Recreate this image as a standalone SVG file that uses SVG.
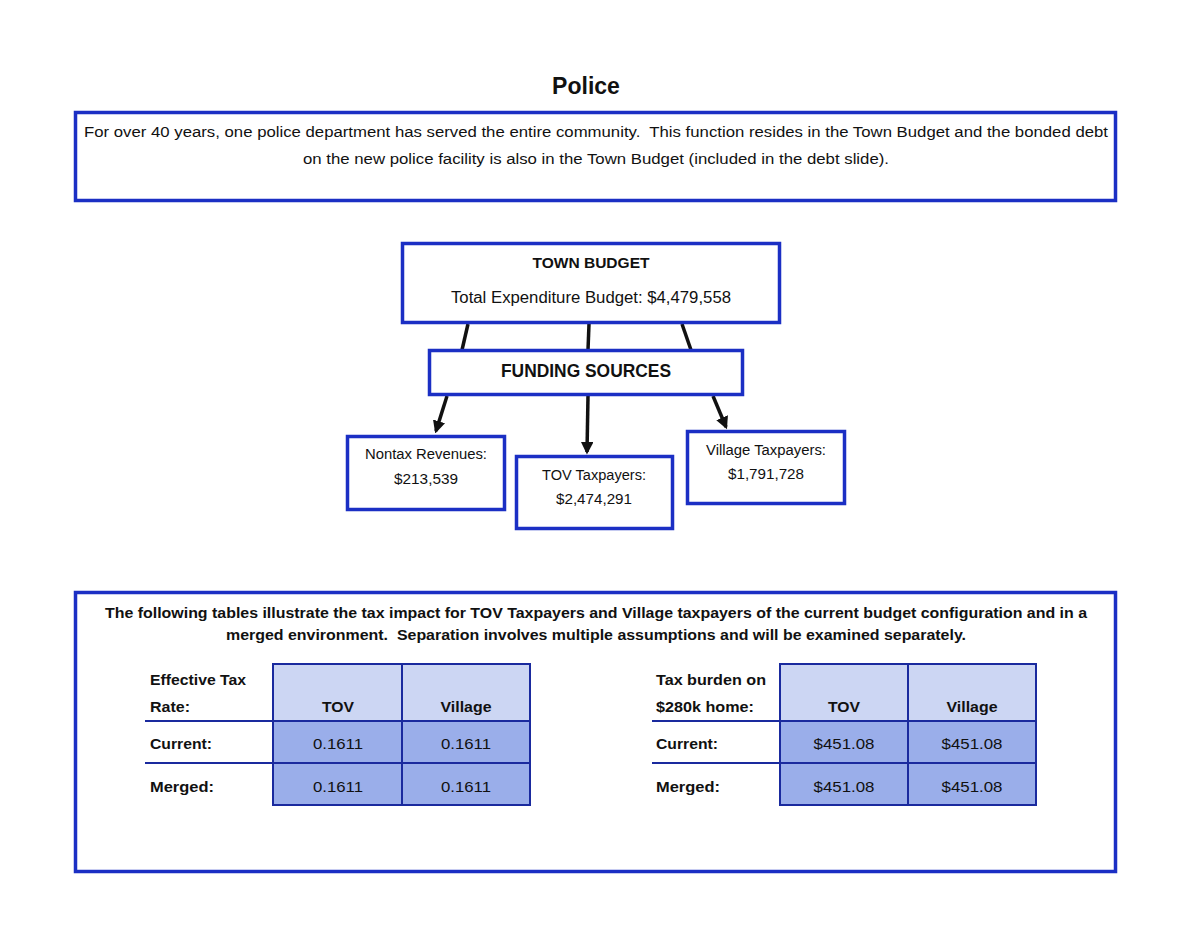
<svg xmlns="http://www.w3.org/2000/svg" width="1200" height="927" viewBox="0 0 1200 927">
<defs>
<style>
text{font-family:"Liberation Sans",Arial,sans-serif;fill:#111;}
.box{fill:#fff;stroke:#1b2fc4;stroke-width:3.5;}
.b{font-weight:bold;}
.c{text-anchor:middle;}
.hd{fill:#ccd6f3;stroke:#1a2a9e;stroke-width:2;}
.dt{fill:#9aaeea;stroke:#1a2a9e;stroke-width:2;}
.rl{stroke:#1a2a9e;stroke-width:2;}
.ln{stroke:#111;stroke-width:3.5;fill:none;}
</style>
<marker id="ah" viewBox="0 0 10 10" refX="8" refY="5" markerWidth="3.6" markerHeight="3.6" orient="auto" markerUnits="strokeWidth">
<path d="M0,0 L10,5 L0,10 z" fill="#111"/>
</marker>
</defs>
<rect width="1200" height="927" fill="#fff"/>
<text x="586" y="94" class="b c" font-size="23">Police</text>
<g id="intro">
<rect class="box" x="75.5" y="112.5" width="1040" height="88"/>
<text x="596" y="137" class="c" font-size="15.5" textLength="1024" lengthAdjust="spacingAndGlyphs" xml:space="preserve">For over 40 years, one police department has served the entire community.  This function resides in the Town Budget and the bonded debt</text>
<text x="596" y="164" class="c" font-size="15.5" textLength="586" lengthAdjust="spacingAndGlyphs">on the new police facility is also in the Town Budget (included in the debt slide).</text>
</g>
<g id="connectors">
<line class="ln" x1="468" y1="324" x2="462" y2="350"/>
<line class="ln" x1="589" y1="324" x2="588" y2="350"/>
<line class="ln" x1="682" y1="324" x2="691" y2="350"/>
<line class="ln" x1="447" y1="396" x2="436" y2="431" marker-end="url(#ah)"/>
<line class="ln" x1="588" y1="396" x2="587" y2="452" marker-end="url(#ah)"/>
<line class="ln" x1="713" y1="396" x2="726" y2="427" marker-end="url(#ah)"/>
</g>
<g id="town-budget">
<rect class="box" x="402.5" y="243.5" width="377" height="79"/>
<text x="591" y="268" class="b c" font-size="15" textLength="117" lengthAdjust="spacingAndGlyphs">TOWN BUDGET</text>
<text x="591" y="303" class="c" font-size="16" textLength="280" lengthAdjust="spacingAndGlyphs">Total Expenditure Budget: $4,479,558</text>
</g>
<g id="funding-sources">
<rect class="box" x="429.5" y="350.5" width="313" height="44"/>
<text x="586" y="377" class="b c" font-size="18" textLength="170" lengthAdjust="spacingAndGlyphs">FUNDING SOURCES</text>
</g>
<g id="nontax">
<rect class="box" x="347.5" y="436.5" width="157" height="73"/>
<text x="426" y="459" class="c" font-size="14" textLength="122" lengthAdjust="spacingAndGlyphs">Nontax Revenues:</text>
<text x="426" y="484" class="c" font-size="14" textLength="64" lengthAdjust="spacingAndGlyphs">$213,539</text>
</g>
<g id="tov-taxpayers">
<rect class="box" x="516.5" y="456.5" width="156" height="72"/>
<text x="594" y="480" class="c" font-size="14" textLength="104" lengthAdjust="spacingAndGlyphs">TOV Taxpayers:</text>
<text x="594" y="504" class="c" font-size="14" textLength="76" lengthAdjust="spacingAndGlyphs">$2,474,291</text>
</g>
<g id="village-taxpayers">
<rect class="box" x="687.5" y="431.5" width="157" height="72"/>
<text x="766" y="455" class="c" font-size="14" textLength="120" lengthAdjust="spacingAndGlyphs">Village Taxpayers:</text>
<text x="766" y="479" class="c" font-size="14" textLength="76" lengthAdjust="spacingAndGlyphs">$1,791,728</text>
</g>
<g id="tax-impact">
<rect class="box" x="75.5" y="592.5" width="1040" height="279"/>
<text x="596" y="618" class="b c" font-size="15" textLength="982" lengthAdjust="spacingAndGlyphs">The following tables illustrate the tax impact for TOV Taxpayers and Village taxpayers of the current budget configuration and in a</text>
<text x="596" y="640" class="b c" font-size="15" textLength="740" lengthAdjust="spacingAndGlyphs" xml:space="preserve">merged environment.  Separation involves multiple assumptions and will be examined separately.</text>
</g>
<g id="table-rate">
<rect class="hd" x="273" y="664" width="129" height="57"/>
<rect class="hd" x="402" y="664" width="128" height="57"/>
<rect class="dt" x="273" y="721" width="129" height="42"/>
<rect class="dt" x="402" y="721" width="128" height="42"/>
<rect class="dt" x="273" y="763" width="129" height="42"/>
<rect class="dt" x="402" y="763" width="128" height="42"/>
<line class="rl" x1="145" y1="721" x2="273" y2="721"/>
<line class="rl" x1="145" y1="763" x2="273" y2="763"/>
<text x="150" y="685" class="b" font-size="15" textLength="96" lengthAdjust="spacingAndGlyphs">Effective Tax</text>
<text x="150" y="712" class="b" font-size="15" textLength="40" lengthAdjust="spacingAndGlyphs">Rate:</text>
<text x="338" y="712" class="b c" font-size="15" textLength="32" lengthAdjust="spacingAndGlyphs">TOV</text>
<text x="466" y="712" class="b c" font-size="15" textLength="51" lengthAdjust="spacingAndGlyphs">Village</text>
<text x="150" y="749" class="b" font-size="15" textLength="62" lengthAdjust="spacingAndGlyphs">Current:</text>
<text x="150" y="792" class="b" font-size="15" textLength="64" lengthAdjust="spacingAndGlyphs">Merged:</text>
<text x="338" y="749" class="c" font-size="15" textLength="50" lengthAdjust="spacingAndGlyphs">0.1611</text>
<text x="466" y="749" class="c" font-size="15" textLength="50" lengthAdjust="spacingAndGlyphs">0.1611</text>
<text x="338" y="792" class="c" font-size="15" textLength="50" lengthAdjust="spacingAndGlyphs">0.1611</text>
<text x="466" y="792" class="c" font-size="15" textLength="50" lengthAdjust="spacingAndGlyphs">0.1611</text>
</g>
<g id="table-burden">
<rect class="hd" x="780" y="664" width="128" height="57"/>
<rect class="hd" x="908" y="664" width="128" height="57"/>
<rect class="dt" x="780" y="721" width="128" height="42"/>
<rect class="dt" x="908" y="721" width="128" height="42"/>
<rect class="dt" x="780" y="763" width="128" height="42"/>
<rect class="dt" x="908" y="763" width="128" height="42"/>
<line class="rl" x1="652" y1="721" x2="780" y2="721"/>
<line class="rl" x1="652" y1="763" x2="780" y2="763"/>
<text x="656" y="685" class="b" font-size="15" textLength="110" lengthAdjust="spacingAndGlyphs">Tax burden on</text>
<text x="656" y="712" class="b" font-size="15" textLength="98" lengthAdjust="spacingAndGlyphs">$280k home:</text>
<text x="844" y="712" class="b c" font-size="15" textLength="32" lengthAdjust="spacingAndGlyphs">TOV</text>
<text x="972" y="712" class="b c" font-size="15" textLength="51" lengthAdjust="spacingAndGlyphs">Village</text>
<text x="656" y="749" class="b" font-size="15" textLength="62" lengthAdjust="spacingAndGlyphs">Current:</text>
<text x="656" y="792" class="b" font-size="15" textLength="64" lengthAdjust="spacingAndGlyphs">Merged:</text>
<text x="844" y="749" class="c" font-size="15" textLength="61" lengthAdjust="spacingAndGlyphs">$451.08</text>
<text x="972" y="749" class="c" font-size="15" textLength="61" lengthAdjust="spacingAndGlyphs">$451.08</text>
<text x="844" y="792" class="c" font-size="15" textLength="61" lengthAdjust="spacingAndGlyphs">$451.08</text>
<text x="972" y="792" class="c" font-size="15" textLength="61" lengthAdjust="spacingAndGlyphs">$451.08</text>
</g>
</svg>
